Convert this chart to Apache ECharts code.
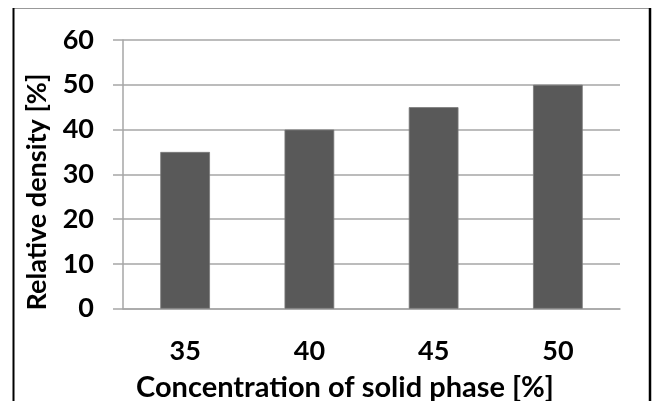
<!DOCTYPE html>
<html>
<head>
<meta charset="utf-8">
<script src="https://cdn.jsdelivr.net/npm/echarts@6/dist/echarts.min.js"></script>
<style>html,body{margin:0;padding:0;background:#fff}#c{width:654px;height:401px}</style>
</head>
<body>
<div id="c"></div>
<script>
var categories = ['35', '40', '45', '50'];
var values = [35, 40, 45, 50];
var yTicks = [0, 10, 20, 30, 40, 50, 60];
var xTitle = 'Concentration of solid phase [%]';
var yTitle = 'Relative density [%]';

var FONT = 'Lato';
var chart = echarts.init(document.getElementById('c'), null, {renderer: 'canvas'});
chart.setOption({
  animation: false,
  backgroundColor: '#fff',
  grid: {left: 123, right: 34, top: 40, bottom: 92.3, containLabel: false},
  title: [
    {text: xTitle, left: 340, top: 368, textAlign: 'center',
     textStyle: {fontFamily: FONT, fontWeight: 'bold', fontSize: 29, color: '#000'}}
  ],
  graphic: [
    {type: 'text', x: 37, y: 192, rotation: Math.PI / 2,
     style: {text: yTitle, font: 'bold 27px ' + FONT, fill: '#000', textAlign: 'center', textVerticalAlign: 'middle'}},
    {type: 'line', shape: {x1: 13, y1: 8.5, x2: 649, y2: 8.5}, style: {stroke: '#999', lineWidth: 1}},
    {type: 'line', shape: {x1: 13.5, y1: 8, x2: 13.5, y2: 401}, style: {stroke: '#000', lineWidth: 2}},
    {type: 'line', shape: {x1: 650, y1: 8, x2: 650, y2: 401}, style: {stroke: '#000', lineWidth: 2.5}}
  ],
  xAxis: {
    type: 'category',
    data: categories,
    axisLine: {show: true, lineStyle: {color: '#a6a6a6', width: 1.5}},
    axisTick: {show: false},
    axisLabel: {margin: 29, fontFamily: FONT, fontWeight: 'bold', fontSize: 27, color: '#000'}
  },
  yAxis: {
    type: 'value',
    min: yTicks[0], max: yTicks[yTicks.length - 1], interval: 10,
    axisLine: {show: true, lineStyle: {color: '#a6a6a6', width: 1.5}},
    axisTick: {show: true, length: 10, lineStyle: {color: '#a6a6a6', width: 1.5}},
    splitLine: {show: true, lineStyle: {color: '#a6a6a6', width: 1.5}},
    axisLabel: {margin: 29, fontFamily: FONT, fontWeight: 'bold', fontSize: 27, color: '#000'}
  },
  series: [{
    type: 'bar',
    data: values,
    barWidth: '40%',
    itemStyle: {color: '#595959', borderColor: '#7a7a7a', borderWidth: 0.8}
  }]
});
</script>
</body>
</html>
